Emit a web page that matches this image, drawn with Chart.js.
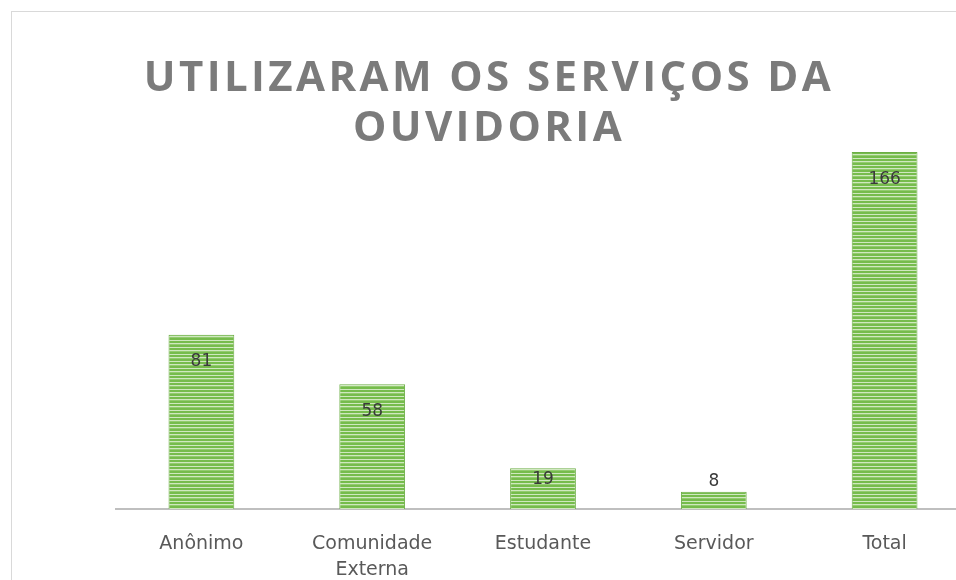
<!DOCTYPE html>
<html lang="pt-BR">
<head>
<meta charset="utf-8">
<title>Utilizaram os serviços da Ouvidoria</title>
<script src="https://cdn.jsdelivr.net/npm/chart.js@4.4.1/dist/chart.umd.min.js"></script>
<style>
  html, body { margin: 0; padding: 0; background: #ffffff; overflow: hidden; }
  body { width: 956px; height: 580px; position: relative; }
  #frame {
    position: absolute;
    left: 11px;
    top: 11px;
    width: 990px;
    height: 600px;
    border: 1px solid #d9d9d9;
    background: #ffffff;
  }
  canvas { display: block; }
</style>
</head>
<body>
<div id="frame">
  <canvas id="chartOuvidoria" width="990" height="600"></canvas>
</div>
<script>
// Dados
const categorias = ['Anônimo', ['Comunidade', 'Externa'], 'Estudante', 'Servidor', 'Total'];
const valores = [81, 58, 19, 8, 166];
const tituloLinhas = ['UTILIZARAM OS SERVIÇOS DA', 'OUVIDORIA'];

// Preenchimento listrado das barras (padrão horizontal estreito)
function criarPadraoListrado() {
  const tile = document.createElement('canvas');
  tile.width = 4;
  tile.height = 7;
  const c = tile.getContext('2d');
  c.fillStyle = '#76bc4c';
  c.fillRect(0, 0, 4, 7);
  c.fillStyle = '#cfe8bf';
  c.fillRect(0, 2, 4, 1);
  c.fillRect(0, 6, 4, 1);
  c.fillStyle = '#92cb6e';
  c.fillRect(0, 3, 4, 1);
  return c.createPattern(tile, 'repeat');
}

// Título com espaçamento entre letras
const tituloPlugin = {
  id: 'tituloEspacado',
  afterDraw(chart) {
    const ctx = chart.ctx;
    ctx.save();
    ctx.font = 'bold 42px "Open Sans", sans-serif';
    ctx.fillStyle = '#7b7b7b';
    ctx.textAlign = 'center';
    ctx.textBaseline = 'middle';
    if ('letterSpacing' in ctx) ctx.letterSpacing = '3.4px';
    tituloLinhas.forEach((linha, i) => {
      ctx.fillText(linha, 477, 67 + i * 50);
    });
    ctx.restore();
  }
};

// Rótulos de dados (extremidade interna, acima quando a barra é curta)
const rotulosPlugin = {
  id: 'rotulosDados',
  afterDatasetsDraw(chart) {
    const ctx = chart.ctx;
    const meta = chart.getDatasetMeta(0);
    ctx.save();
    ctx.font = '17px "DejaVu Sans", sans-serif';
    ctx.fillStyle = '#3a3a3a';
    ctx.textAlign = 'center';
    ctx.textBaseline = 'middle';
    meta.data.forEach((bar, i) => {
      const altura = bar.base - bar.y;
      let y;
      if (altura > 30) {
        y = bar.y + Math.min(27, altura / 2 - 9);
      } else {
        y = bar.y - 10;
      }
      ctx.fillText(String(valores[i]), bar.x, y);
    });
    ctx.restore();
  }
};

const ctx = document.getElementById('chartOuvidoria');

new Chart(ctx, {
  type: 'bar',
  data: {
    labels: categorias,
    datasets: [{
      data: valores,
      backgroundColor: criarPadraoListrado(),
      borderColor: '#6cae45',
      borderWidth: 1,
      barPercentage: 0.385,
      categoryPercentage: 1
    }]
  },
  options: {
    responsive: false,
    maintainAspectRatio: false,
    animation: false,
    layout: {
      padding: { top: 110, left: 104, right: 32, bottom: 3 }
    },
    scales: {
      x: {
        grid: { display: false, drawTicks: false },
        border: { display: true, color: '#bfbfbf', width: 2 },
        ticks: {
          color: '#595959',
          padding: 23,
          font: { family: '"DejaVu Sans", sans-serif', size: 19, lineHeight: 1.32 }
        },
        afterFit(scale) { scale.height = 100; }
      },
      y: {
        display: false,
        min: 0,
        max: 180
      }
    },
    plugins: {
      legend: { display: false },
      title: { display: false },
      tooltip: { enabled: false }
    }
  },
  plugins: [tituloPlugin, rotulosPlugin]
});
</script>
</body>
</html>
